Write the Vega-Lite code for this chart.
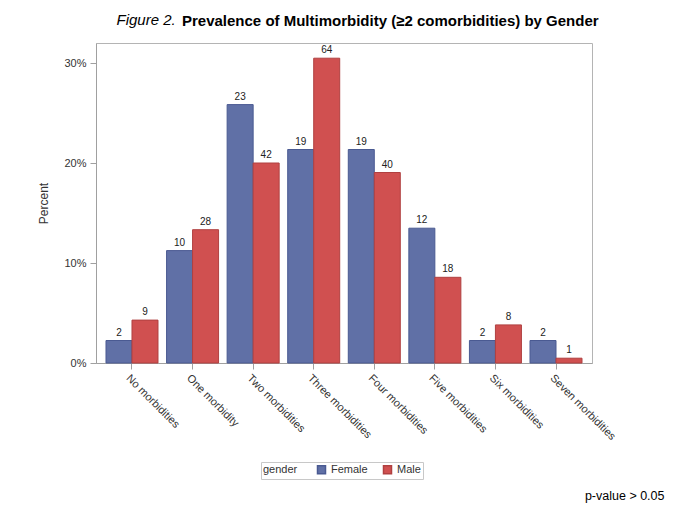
{
  "$schema": "https://vega.github.io/schema/vega-lite/v6.json",
  "padding": {"left": 37, "top": 12, "right": 5, "bottom": 5},
  "title": {"text": "Figure 2.", "anchor": "start", "fontStyle": "italic", "fontWeight": "normal", "fontSize": 15, "dx": 79, "dy": -5, "color": "#000000", "offset": -19},
  "vconcat": [
    {
      "width": 496,
      "height": 320,
      "title": {"text": "Prevalence of Multimorbidity (≥2 comorbidities) by Gender", "anchor": "start", "fontWeight": "bold", "fontSize": 15, "dx": 144, "dy": -10, "color": "#000000"},
      "data": {"values": [
        {"category": "No morbidities", "gender": "Female", "percent": 0.0225, "count": 2},
        {"category": "One morbidity", "gender": "Female", "percent": 0.1124, "count": 10},
        {"category": "Two morbidities", "gender": "Female", "percent": 0.2584, "count": 23},
        {"category": "Three morbidities", "gender": "Female", "percent": 0.2135, "count": 19},
        {"category": "Four morbidities", "gender": "Female", "percent": 0.2135, "count": 19},
        {"category": "Five morbidities", "gender": "Female", "percent": 0.1348, "count": 12},
        {"category": "Six morbidities", "gender": "Female", "percent": 0.0225, "count": 2},
        {"category": "Seven morbidities", "gender": "Female", "percent": 0.0225, "count": 2},
        {"category": "No morbidities", "gender": "Male", "percent": 0.0429, "count": 9},
        {"category": "One morbidity", "gender": "Male", "percent": 0.1333, "count": 28},
        {"category": "Two morbidities", "gender": "Male", "percent": 0.2, "count": 42},
        {"category": "Three morbidities", "gender": "Male", "percent": 0.3048, "count": 64},
        {"category": "Four morbidities", "gender": "Male", "percent": 0.1905, "count": 40},
        {"category": "Five morbidities", "gender": "Male", "percent": 0.0857, "count": 18},
        {"category": "Six morbidities", "gender": "Male", "percent": 0.0381, "count": 8},
        {"category": "Seven morbidities", "gender": "Male", "percent": 0.0048, "count": 1}
      ]},
      "encoding": {
        "x": {
          "field": "category", "type": "nominal",
          "sort": ["No morbidities", "One morbidity", "Two morbidities", "Three morbidities", "Four morbidities", "Five morbidities", "Six morbidities", "Seven morbidities"],
          "scale": {"paddingInner": 0.1415, "paddingOuter": 0.165},
          "axis": {
            "title": "p-value > 0.05",
            "labelAngle": 45, "labelAlign": "left", "labelBaseline": "top",
            "labelFontSize": 11, "labelColor": "#333333", "labelPadding": 3,
            "tickSize": 6,
            "titleX": 568, "titleY": 136, "titleAlign": "right", "titleBaseline": "alphabetic", "titleAnchor": "end",
            "titleFontSize": 12.5, "titleFontWeight": "normal", "titleColor": "#000000"
          }
        },
        "xOffset": {"field": "gender", "type": "nominal", "sort": ["Female", "Male"]},
        "y": {
          "field": "percent", "type": "quantitative",
          "scale": {"domain": [0, 0.32], "nice": false},
          "axis": {"format": ".0%", "values": [0, 0.1, 0.2, 0.3], "title": "Percent", "grid": false,
            "labelFontSize": 11, "labelColor": "#333333", "labelPadding": 4, "tickSize": 6,
            "titleFontSize": 12, "titleFontWeight": "normal", "titleColor": "#333333", "titlePadding": 13}
        }
      },
      "layer": [
        {
          "mark": {"type": "bar", "strokeWidth": 1},
          "encoding": {
            "color": {"field": "gender", "type": "nominal", "title": "gender",
              "scale": {"domain": ["Female", "Male"], "range": ["#6070A6", "#D05050"]},
              "legend": {"orient": "none", "legendX": 165, "legendY": 419, "direction": "horizontal", "titleOrient": "left",
                "strokeColor": "#c8c8c8", "padding": 2, "symbolType": "square", "symbolSize": 64,
                "labelFontSize": 11, "titleFontSize": 11, "titleFontWeight": "normal", "titleColor": "#333333", "labelColor": "#333333", "columnPadding": 12, "titlePadding": 18}
            },
            "stroke": {"field": "gender", "type": "nominal", "scale": {"domain": ["Female", "Male"], "range": ["#4A5A92", "#B04040"]}, "legend": null}
          }
        },
        {
          "mark": {"type": "text", "dy": -3, "baseline": "bottom", "fontSize": 10, "color": "#222222"},
          "encoding": {"text": {"field": "count", "type": "quantitative"}}
        }
      ]
    }
  ],
  "config": {
    "font": "Liberation Sans",
    "view": {"stroke": "#b4b4b4"},
    "axis": {"domainColor": "#a0a0a0", "tickColor": "#a0a0a0"}
  }
}
